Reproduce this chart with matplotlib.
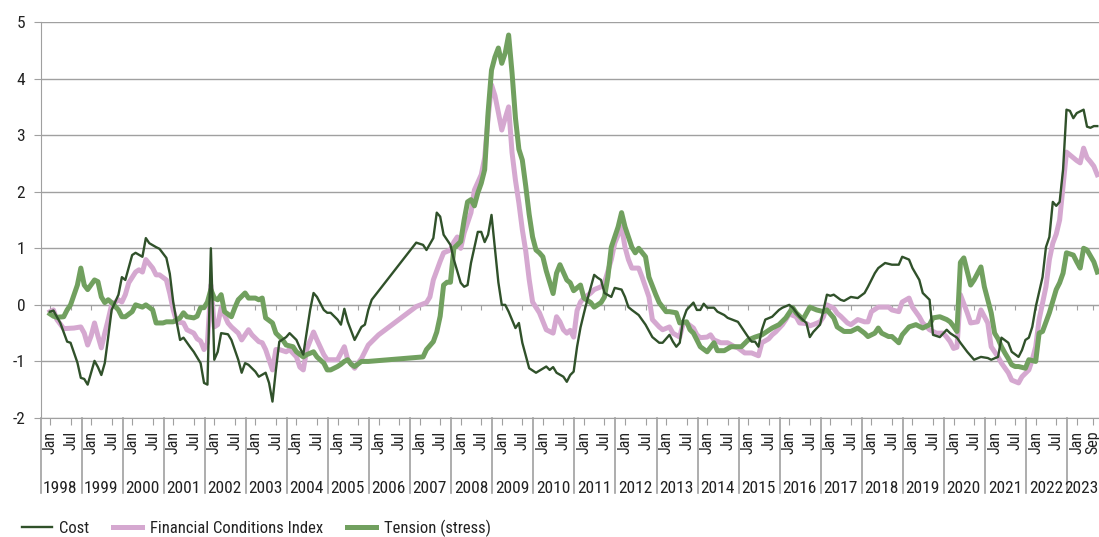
import matplotlib
matplotlib.use("Agg")
import matplotlib.pyplot as plt
from matplotlib import font_manager as fm

# x values are months counted from the first "Jan" tick (Jan 1998)
cost_m = [0, 1, 3, 5, 6, 8, 9, 10, 11, 13, 14, 15, 16, 17, 18, 20, 21, 22, 24, 25, 27, 28, 29, 31, 32, 34, 35,
          36, 37, 38, 39, 41, 42, 44, 45, 46, 47, 48, 49, 50, 52, 53, 55, 56, 57, 58, 60, 61, 63, 64, 65, 66, 67,
          69, 70, 72, 73, 74, 76, 77, 78, 80, 81, 82, 84, 85, 86, 87, 89, 91, 92, 93, 94, 107, 109, 110, 112,
          113, 114, 115, 117, 118, 120, 121, 122, 123, 125, 126, 127, 128, 129, 130, 131, 132, 133, 134, 136,
          137, 138, 140, 142, 145, 146, 147, 148, 150, 151, 152, 153, 154, 155, 156, 157, 159, 160, 161, 162,
          164, 165, 167, 168, 169, 170, 172, 174, 176, 178, 179, 181, 182, 183, 184, 185, 186, 188, 189, 190,
          191, 192, 194, 195, 197, 198, 201, 202, 204, 205, 206, 207, 208, 209, 211, 213, 214, 216, 217, 219,
          221, 222, 223, 225, 226, 227, 228, 229, 231, 232, 234, 236, 238, 239, 241, 242, 244, 246, 248, 249,
          251, 252, 254, 255, 257, 258, 260, 262, 263, 265, 266, 268, 270, 272, 274, 275, 277, 278, 280, 281,
          283, 284, 285, 286, 287, 288, 290, 291, 292, 293, 294, 295, 296, 297, 298, 299, 300, 302, 303, 304,
          305, 306]
cost_v = [-0.12, -0.10, -0.32, -0.65, -0.67, -1.02, -1.29, -1.31, -1.41, -0.99, -1.10, -1.24, -1.03, -0.57,
          -0.09, 0.18, 0.49, 0.44, 0.88, 0.92, 0.85, 1.18, 1.09, 1.02, 0.99, 0.83, 0.55,
          0.05, -0.30, -0.62, -0.58, -0.75, -0.83, -1.03, -1.38, -1.41, 1.00, -0.97, -0.83, -0.50, -0.52, -0.62,
          -0.97, -1.20, -1.03, -1.06, -1.18, -1.27, -1.20, -1.38, -1.71, -1.15, -0.65,
          -0.57, -0.50, -0.62, -0.76, -0.88, -0.09, 0.21, 0.14, -0.09, -0.14, -0.14, -0.26, -0.35, -0.07, -0.30,
          -0.62, -0.39, -0.35, -0.09, 0.09, 1.10, 1.06, 0.97, 1.18,
          1.63, 1.56, 1.24, 1.06, 0.80, 0.39, 0.32, 0.35, 0.74, 1.29, 1.29, 1.11, 1.24, 1.59, 1.00, 0.40, 0.00,
          0.00, -0.12, -0.41,
          -0.32, -0.67, -1.12, -1.20, -1.09, -1.15, -1.10, -1.20, -1.27, -1.36, -1.24, -1.18, -0.74, -0.40,
          -0.15, 0.09, 0.53, 0.48, 0.44, 0.21,
          0.14, 0.30, 0.27, 0.14, -0.04, -0.09, -0.18, -0.35, -0.57, -0.67, -0.67, -0.53, -0.65, -0.74, -0.67,
          -0.26, -0.09, 0.04, -0.09, -0.09,
          0.02, -0.05, -0.05, -0.12, -0.18, -0.23, -0.30, -0.39, -0.57, -0.65, -0.65, -0.74, -0.44, -0.26, -0.21,
          -0.09, -0.05, 0.00, -0.05, -0.21,
          -0.32, -0.57, -0.48, -0.35, -0.09, 0.18, 0.16, 0.18, 0.09, 0.07, 0.14, 0.12, 0.21, 0.32, 0.56, 0.65,
          0.74, 0.71, 0.71, 0.85,
          0.80, 0.65, 0.44, 0.21, 0.09, -0.53, -0.57, -0.44, -0.50, -0.58, -0.67, -0.83, -0.97, -0.92, -0.94,
          -0.97, -0.92, -0.58, -0.67, -0.83,
          -0.92, -0.80, -0.62, -0.58, -0.39, -0.04, 0.49, 1.02, 1.20, 1.82, 1.75, 1.82, 2.39, 3.45, 3.43, 3.30,
          3.39, 3.45, 3.15, 3.13,
          3.16, 3.16]

fci_m = [0, 1, 2, 4, 7, 9, 10, 11, 12, 13, 14, 15, 16, 17, 18, 20, 21, 22, 23, 25, 26, 27, 28, 30, 31, 32, 34,
         35, 36, 37, 39, 40, 42, 43, 44, 45, 46, 47, 48, 49, 50, 52, 53, 55, 56, 58, 59, 61, 62, 63, 65, 66, 67,
         69, 70, 72, 73, 74, 75, 77, 78, 80, 81, 83, 84, 86, 87, 89, 90, 91, 93, 94, 96, 107, 110, 111, 112, 114,
         115, 117, 118, 119, 120, 121, 123, 124, 126, 127, 128, 129, 130, 131, 132, 133, 134, 135, 136, 137,
         138, 139, 140, 141, 143, 145, 147, 148, 149, 150, 151, 152, 153, 154, 155, 156, 158, 159, 161, 162,
         164, 165, 167, 168, 169, 170, 172, 173, 175, 176, 178, 179, 181, 182, 184, 185, 186, 188, 189, 190,
         192, 193, 194, 196, 198, 200, 201, 203, 204, 205, 207, 208, 210, 211, 212, 214, 215, 216, 218, 219,
         221, 222, 223, 225, 226, 227, 229, 230, 231, 233, 234, 236, 238, 239, 240, 242, 245, 246, 248, 249,
         251, 252, 254, 255, 257, 259, 261, 262, 263, 264, 265, 266, 268, 269, 271, 272, 274, 275, 277, 278,
         280, 281, 283, 284, 286, 287, 288, 289, 291, 292, 293, 294, 295, 296, 297, 298, 299, 300, 301, 302,
         303, 304, 305, 306]
fci_v = [-0.12, -0.09, -0.26, -0.42, -0.41, -0.39, -0.50, -0.71, -0.55, -0.32, -0.55, -0.76, -0.50, -0.26, 0.00,
         0.09, 0.05, 0.18, 0.39, 0.58, 0.62, 0.58, 0.80, 0.65, 0.53, 0.53, 0.44,
         0.20, -0.09, -0.30, -0.32, -0.44, -0.50, -0.60, -0.64, -0.79, -0.67, 0.35, -0.39, -0.35, -0.05, -0.32,
         -0.39, -0.50, -0.62, -0.44, -0.53, -0.65, -0.67, -0.79, -1.15, -0.79, -0.79,
         -0.83, -0.79, -0.92, -1.10, -1.15, -0.79, -0.48, -0.62, -0.88, -0.97, -0.97, -0.97, -0.74, -0.97, -1.12,
         -1.03, -0.95, -0.71, -0.65, -0.53, -0.03, 0.04, 0.14, 0.44, 0.77,
         0.92, 0.97, 1.11, 1.20, 1.00, 1.27, 1.63, 2.03, 2.30, 2.60, 3.30, 3.89, 3.70, 3.40, 3.09, 3.30, 3.50,
         2.69, 2.20, 1.80,
         1.33, 0.95, 0.45, 0.05, -0.14, -0.44, -0.50, -0.21, -0.30, -0.44, -0.50, -0.45, -0.57, -0.10, 0.05,
         0.12, 0.21, 0.27, 0.32, 0.39,
         0.80, 1.09, 1.38, 1.02, 0.80, 0.65, 0.65, 0.49, 0.14, -0.26, -0.39, -0.44, -0.39, -0.50, -0.57, -0.32,
         -0.32, -0.41, -0.53, -0.58,
         -0.57, -0.53, -0.62, -0.67, -0.67, -0.74, -0.76, -0.85, -0.85, -0.85, -0.90, -0.67, -0.60, -0.53, -0.48,
         -0.35, -0.26, -0.16, -0.21, -0.32,
         -0.33, -0.37, -0.35, -0.30, -0.21, 0.00, -0.06, -0.15, -0.20, -0.32, -0.35, -0.26, -0.30, -0.30, -0.12,
         -0.04, -0.04, -0.09, -0.12, 0.05,
         0.12, -0.04, -0.21, -0.32, -0.44, -0.50, -0.50, -0.57, -0.65, -0.77, -0.75, 0.18, -0.14, -0.32, -0.30,
         -0.09, -0.32, -0.74, -0.92, -1.03,
         -1.20, -1.33, -1.38, -1.27, -1.15, -0.97, -0.74, -0.26, 0.32, 0.80, 1.09, 1.25, 1.50, 2.10, 2.70, 2.65,
         2.60, 2.55, 2.51, 2.77,
         2.60, 2.53, 2.45, 2.30]

stress_m = [0, 1, 2, 4, 5, 6, 8, 9, 10, 11, 13, 14, 15, 16, 17, 18, 20, 21, 22, 24, 25, 27, 28, 30, 31, 33, 34,
            36, 38, 39, 40, 42, 43, 44, 45, 46, 47, 48, 49, 50, 51, 53, 54, 55, 57, 58, 60, 61, 62, 63, 65, 66,
            68, 69, 71, 72, 74, 75, 77, 78, 80, 81, 82, 84, 85, 86, 87, 88, 89, 91, 93, 109, 110, 112, 113, 114,
            115, 116, 117, 118, 120, 121, 122, 123, 124, 125, 126, 127, 128, 129, 130, 131, 132, 133, 134, 135,
            136, 137, 138, 139, 140, 141, 142, 143, 144, 145, 147, 148, 149, 151, 152, 153, 155, 156, 158, 159,
            161, 162, 163, 164, 166, 167, 168, 169, 170, 171, 172, 174, 175, 177, 178, 180, 181, 183, 184, 186,
            187, 188, 189, 190, 192, 194, 195, 197, 199, 202, 204, 206, 208, 209, 211, 213, 215, 217, 218, 220,
            222, 224, 226, 227, 229, 230, 232, 234, 236, 238, 239, 241, 242, 243, 245, 246, 248, 249, 251, 253,
            255, 257, 258, 260, 262, 263, 264, 265, 266, 267, 269, 270, 272, 273, 275, 276, 277, 278, 279, 280,
            281, 282, 283, 285, 286, 288, 289, 290, 292, 294, 295, 296, 297, 299, 300, 301, 302, 303, 305, 306]
stress_v = [-0.16, -0.20, -0.22, -0.21, -0.09, 0.00, 0.35, 0.65, 0.35, 0.27, 0.44, 0.41, 0.14, 0.04, 0.09, 0.04,
            -0.09, -0.21, -0.21, -0.12, 0.00, -0.04, 0.00, -0.09, -0.32, -0.32, -0.30,
            -0.30, -0.23, -0.14, -0.21, -0.23, -0.20, -0.05, -0.05, 0.05, 0.27, 0.12, 0.09, 0.18, -0.12, -0.21,
            -0.05, 0.09, 0.21, 0.12, 0.12, 0.09, 0.12, -0.23, -0.32, -0.50,
            -0.62, -0.71, -0.74, -0.83, -0.92, -0.88, -0.83, -0.92, -1.03, -1.15, -1.15, -1.09, -1.05, -1.00, -0.97,
            -1.05, -1.09, -1.00, -1.00, -0.92, -0.79, -0.65, -0.48, -0.20,
            0.35, 0.40, 0.40, 1.00, 1.12, 1.50, 1.82, 1.86, 1.75, 1.98, 2.15, 2.39, 3.40, 4.15, 4.38, 4.54, 4.27,
            4.45, 4.77, 4.10,
            3.30, 2.75, 2.56, 2.10, 1.60, 1.20, 0.97, 0.92, 0.85, 0.60, 0.20, 0.56, 0.71, 0.44, 0.39, 0.25, 0.35,
            0.12, 0.04, -0.04,
            0.04, 0.14, 0.49, 1.02, 1.38, 1.63, 1.38, 1.20, 1.02, 0.92, 1.00, 0.85, 0.49, 0.18, 0.04, -0.12, -0.12,
            -0.14, -0.32, -0.30,
            -0.44, -0.50, -0.62, -0.74, -0.83, -0.67, -0.81, -0.81, -0.74, -0.74, -0.62, -0.57, -0.53, -0.49, -0.41,
            -0.35, -0.23, -0.05, -0.14, -0.26,
            -0.04, -0.09, -0.12, -0.09, -0.23, -0.39, -0.47, -0.47, -0.41, -0.50, -0.56, -0.50, -0.41, -0.50, -0.56,
            -0.56, -0.67, -0.53, -0.39, -0.35,
            -0.41, -0.35, -0.23, -0.21, -0.26, -0.30, -0.38, -0.47, 0.75, 0.83, 0.35, 0.44, 0.67, 0.32, -0.14,
            -0.50, -0.60, -0.74, -0.85, -0.95,
            -1.06, -1.09, -1.09, -1.12, -0.97, -1.00, -0.50, -0.47, -0.14, 0.27, 0.39, 0.56, 0.92, 0.88, 0.76,
            0.65, 1.00, 0.97, 0.76, 0.58]

years = list(range(1998, 2024))
month_ticks = list(range(0, 301, 6)) + [304.8]
month_labels = ["Jan" if i % 2 == 0 else "Jul" for i in range(51)] + ["Sep"]
y_ticks = [-2, -1, 0, 1, 2, 3, 4, 5]

installed = {f.name for f in fm.fontManager.ttflist}
font = next((f for f in ["Roboto Condensed", "Liberation Sans Narrow", "Open Sans Condensed", "Roboto"]
             if f in installed), "DejaVu Sans")
plt.rcParams["font.family"] = [font, "DejaVu Sans"]

grey = "#a0a0a0"
ink = "#222222"
c_cost = "#30512a"
c_fci = "#d5a8d0"
c_stress = "#71a05f"

W, H = 1099, 537
fig = plt.figure(figsize=(W / 100, H / 100), dpi=100)
ax = fig.add_axes([40.5 / W, 1 - 418 / H, (W - 40.5) / W, 396 / H])

ax.plot(fci_m, fci_v, color=c_fci, lw=3.6, solid_joinstyle="round", zorder=3, label="Financial Conditions Index")
ax.plot(stress_m, stress_v, color=c_stress, lw=3.6, solid_joinstyle="round", zorder=4, label="Tension (stress)")
ax.plot(cost_m, cost_v, color=c_cost, lw=1.7, zorder=5, label="Cost")

ax.set_xlim(-2.78, 306.5)
ax.set_ylim(-2, 5)
ax.set_yticks(y_ticks)
ax.set_yticklabels([str(v) for v in y_ticks])
ax.yaxis.grid(True, color=grey, lw=1.0, zorder=1)
ax.tick_params(axis="y", length=5, color=grey, labelsize=12.5, labelcolor=ink, pad=6)

for s in ["top", "right"]:
    ax.spines[s].set_visible(False)
ax.spines["left"].set_color(grey)
ax.spines["bottom"].set_position(("data", 0))
ax.spines["bottom"].set_color(grey)
ax.set_xticks(month_ticks)
ax.tick_params(axis="x", length=3.5, color=grey, labelbottom=False)

sec = ax.secondary_xaxis(0.0)
sec.set_xticks(month_ticks)
sec.set_xticklabels(month_labels, rotation=90)
sec.tick_params(axis="x", length=5, color=grey, labelsize=11.5, labelcolor=ink, pad=4)
sec.spines["bottom"].set_color(grey)

# year groups under the month labels
tr = ax.get_xaxis_transform()
for i, yr in enumerate(years):
    ax.plot([12 * i - 2.78] * 2, [0, -0.19], color=grey, lw=1.2, transform=tr, clip_on=False)
    last = yr == years[-1]
    ax.text(306.3 if last else 12 * i + 3, -0.19, str(yr), transform=tr,
            ha="right" if last else "center", va="baseline", fontsize=12.5, color=ink, clip_on=False)

handles, labels = ax.get_legend_handles_labels()
order = [2, 0, 1]
fig.legend([handles[i] for i in order], [labels[i] for i in order], loc="center left",
           bbox_to_anchor=(14 / W, 9 / H), ncol=3, frameon=False, fontsize=12, borderpad=0,
           handlelength=1.75, handletextpad=0.45, columnspacing=1.45, labelcolor=ink)

fig.savefig("out.png", dpi=100)
